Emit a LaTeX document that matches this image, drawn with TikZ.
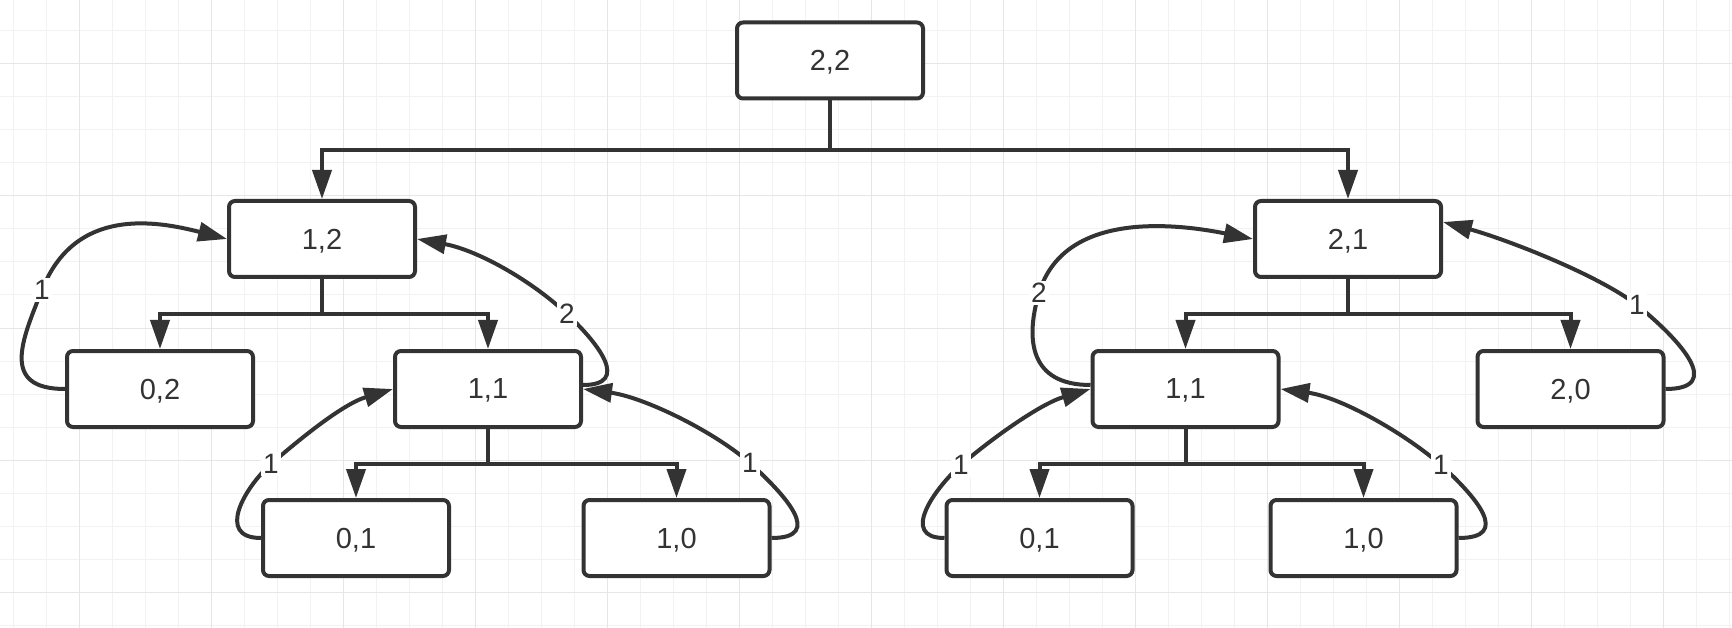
\documentclass[tikz,border=0pt]{standalone}
\usepackage{fontspec}
\setmainfont{Liberation Sans}
\usetikzlibrary{arrows.meta,calc}
\definecolor{ink}{HTML}{333333}
\definecolor{gridminor}{HTML}{F2F2F2}
\definecolor{gridmajor}{HTML}{E6E6E6}
\begin{document}
\begin{tikzpicture}[x=1pt,y=-1pt,
  box/.style={draw=ink, line width=4pt, rounded corners=6pt, fill=white,
    minimum width=186pt, minimum height=76pt, inner sep=0pt, text=ink,
    text depth=0pt, font=\fontsize{29}{34}\selectfont},
  tree/.style={draw=ink, line width=4pt, -{Triangle[length=29pt,width=19pt]},
    to path={|- ($(\tikztostart)!0.5!(\tikztotarget)$) -| (\tikztotarget)}},
  back/.style={draw=ink, line width=4pt, -{Triangle[length=29pt,width=19pt]}},
  lab/.style={fill=white, inner sep=2pt, text=ink, text depth=0pt,
    font=\fontsize{28}{32}\selectfont}
]
\useasboundingbox (0,0) rectangle (1732,628);
\fill[white] (0,0) rectangle (1732,628);
% grid
\foreach \i in {0,...,52} {\draw[gridminor,line width=1pt] ({13.3+33*\i},0) -- ({13.3+33*\i},628);}
\foreach \j in {0,...,18} {\draw[gridminor,line width=1pt] (0,{31+33*\j}) -- (1732,{31+33*\j});}
\foreach \i in {0,...,12} {\draw[gridmajor,line width=1pt] ({79.3+132*\i},0) -- ({79.3+132*\i},628);}
\foreach \j in {0,...,4} {\draw[gridmajor,line width=1pt] (0,{64+132*\j}) -- (1732,{64+132*\j});}

% nodes
\node[box] (n22) at (830,60.5) {2,2};
\node[box] (n12) at (322,239) {1,2};
\node[box] (n21) at (1348,239) {2,1};
\node[box] (n02) at (160,389) {0,2};
\node[box] (n11a) at (488,389) {1,1};
\node[box] (n11b) at (1185.5,389) {1,1};
\node[box] (n20) at (1570.5,389) {2,0};
\node[box] (n01a) at (356,538) {0,1};
\node[box] (n10a) at (676.5,538) {1,0};
\node[box] (n01b) at (1039.5,538) {0,1};
\node[box] (n10b) at (1363.5,538) {1,0};

% tree edges
\draw[tree] (n22.south) to (n12.north);
\draw[tree] (n22.south) to (n21.north);
\draw[tree] (n12.south) to (n02.north);
\draw[tree] (n12.south) to (n11a.north);
\draw[tree] (n11a.south) to (n01a.north);
\draw[tree] (n11a.south) to (n10a.north);
\draw[tree] (n21.south) to (n11b.north);
\draw[tree] (n21.south) to (n20.north);
\draw[tree] (n11b.south) to (n01b.north);
\draw[tree] (n11b.south) to (n10b.north);

% back edges
\draw[back] (n02.west) .. controls (0,389) and (22,340) .. (42,290) node[lab]{1}
  .. controls (75,206) and (157,221) .. (n12.west);
\draw[back] ([yshift=4pt]n11a.east) .. controls (630,385) and (600,345) .. (567,314) node[lab]{2}
  .. controls (531,280) and (477,250) .. (n12.east);
\draw[back] (n10a.east) .. controls (825,538) and (785,495) .. (750,463) node[lab]{1}
  .. controls (712,430) and (643,397) .. (n11a.east);
\draw[back] (n01a.west) .. controls (215,538) and (245,487) .. (271,464) node[lab]{1}
  .. controls (301,438) and (343,404) .. (n11a.west);
\draw[back] ([yshift=4pt]n11b.west) .. controls (1030,385) and (1025,340) .. (1039,293) node[lab]{2}
  .. controls (1063.6,211.4) and (1173,223) .. (n21.west);
\draw[back] (n20.east) .. controls (1725,389) and (1680,340) .. (1637,305) node[lab]{1}
  .. controls (1595,273) and (1502,238) .. ([yshift=17pt]n21.east);
\draw[back] (n01b.west) .. controls (899,538) and (935,488) .. (961,465) node[lab]{1}
  .. controls (991,439) and (1040,404) .. (n11b.west);
\draw[back] (n10b.east) .. controls (1512,538) and (1476,497) .. (1441,465) node[lab]{1}
  .. controls (1403,432) and (1340,397) .. (n11b.east);
\end{tikzpicture}
\end{document}
